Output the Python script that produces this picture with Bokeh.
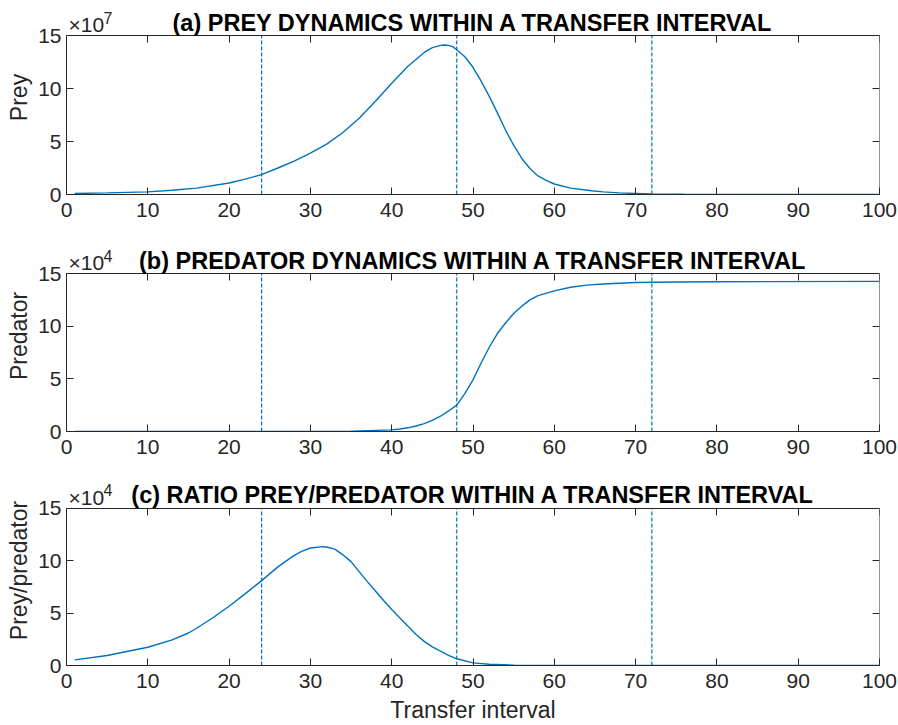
from bokeh.plotting import figure
from bokeh.models import Range1d, FixedTicker, LinearAxis, Label
from bokeh.layouts import column
from bokeh.embed import file_html
from bokeh.resources import INLINE

# ---- data (values in units of the axis exponent) ----
prey_x = [1, 5, 10, 13, 16, 20, 22, 24, 26, 28, 30, 32, 34, 36, 38, 40, 42, 44, 45, 46, 46.5,
          47, 47.5, 48, 49, 50, 51, 52, 53, 54, 55, 56, 57, 58, 59, 60, 62, 64.6, 66, 68, 70,
          72, 76, 80, 100]
prey_y = [0.1, 0.15, 0.25, 0.4, 0.6, 1.08, 1.45, 1.88, 2.5, 3.15, 3.9, 4.75, 5.85, 7.2, 8.8,
          10.5, 12.1, 13.4, 13.85, 14.07, 14.1, 14.07, 13.95, 13.66, 13.0, 12.0, 10.7, 9.26,
          7.7, 6.08, 4.65, 3.4, 2.45, 1.75, 1.33, 0.99, 0.6, 0.35, 0.25, 0.15, 0.1, 0.05, 0.02,
          0.01, 0.0]

pred_x = [1, 10, 20, 30, 35, 40, 41, 42, 43, 44, 45, 46, 47, 48, 49, 50, 51, 52, 53, 54, 55,
          56, 57, 58, 60, 62, 64, 66, 70, 75, 80, 100]
pred_y = [0, 0, 0, 0.01, 0.04, 0.15, 0.24, 0.35, 0.52, 0.75, 1.05, 1.45, 1.95, 2.5, 3.6, 4.9,
          6.5, 8.0, 9.3, 10.3, 11.2, 11.9, 12.5, 12.9, 13.35, 13.7, 13.9, 14.0, 14.14, 14.2,
          14.22, 14.25]

ratio_x = [1, 5, 10, 13, 15, 16, 18, 20, 22, 24, 26, 28, 29, 30, 31.5, 32, 33, 34, 35, 36, 37,
           38, 39, 40, 42, 43, 44, 45, 46, 47, 48, 50, 52, 55, 60, 100]
ratio_y = [0.54, 0.95, 1.74, 2.45, 3.1, 3.55, 4.55, 5.65, 6.85, 8.09, 9.4, 10.5, 10.9, 11.2,
           11.33, 11.3, 11.1, 10.55, 9.9, 8.95, 8.0, 7.1, 6.2, 5.33, 3.74, 2.95, 2.3, 1.78,
           1.36, 0.97, 0.64, 0.25, 0.12, 0.04, 0.01, 0.0]

transfer_marks = [24, 48, 72]
x_ticks = [0, 10, 20, 30, 40, 50, 60, 70, 80, 90, 100]
y_ticks = [0, 5, 10, 15]
y_max = 15

titles = ["(a) PREY DYNAMICS WITHIN A TRANSFER INTERVAL",
          "(b) PREDATOR DYNAMICS WITHIN A TRANSFER INTERVAL",
          "(c) RATIO PREY/PREDATOR WITHIN A TRANSFER INTERVAL"]
ylabels = ["Prey", "Predator", "Prey/predator"]
exponents = ["7", "4", "4"]

BLUE = "#0072BD"
AX = "#262626"
FONT = "Liberation Sans"


def style_axis(ax):
    ax.major_tick_in = 7
    ax.major_tick_out = 0
    ax.minor_tick_line_color = None
    ax.axis_line_color = AX
    ax.major_tick_line_color = AX
    ax.major_label_text_font = FONT
    ax.major_label_text_font_size = "21px"
    ax.major_label_text_color = AX
    ax.axis_label_text_font = FONT
    ax.axis_label_text_font_size = "23px"
    ax.axis_label_text_font_style = "normal"
    ax.axis_label_text_color = AX


def make_panel(xs, ys, title, ylabel, expo, height, head, bottom, xlabel=None):
    # the frame reaches the top of the figure; the head room above y=15 holds the title
    frame_h = height - bottom
    y_top = y_max * frame_h / (frame_h - head)
    p = figure(width=898, height=height, x_range=Range1d(0, 100), y_range=Range1d(0, y_top),
               output_backend="svg", toolbar_location=None,
               min_border_left=66, min_border_right=19,
               min_border_top=0, min_border_bottom=bottom)
    p.xgrid.visible = False
    p.ygrid.visible = False
    p.outline_line_color = None
    p.background_fill_color = "white"
    p.border_fill_color = "white"

    for ax in p.xaxis:
        ax.ticker = FixedTicker(ticks=x_ticks)
        style_axis(ax)
        ax.major_label_standoff = 8
    for ax in p.yaxis:
        ax.ticker = FixedTicker(ticks=y_ticks)
        ax.bounds = (0, y_max)
        style_axis(ax)
        ax.major_label_standoff = 5
        ax.axis_label = ylabel
        ax.axis_label_standoff = 3
    if xlabel:
        p.xaxis.axis_label = xlabel
        p.xaxis.axis_label_standoff = 6

    # box with mirrored ticks (MATLAB style)
    top_ax = LinearAxis(ticker=FixedTicker(ticks=x_ticks), fixed_location=y_max)
    right_ax = LinearAxis(ticker=FixedTicker(ticks=y_ticks), fixed_location=100,
                          bounds=(0, y_max))
    for ax in (top_ax, right_ax):
        style_axis(ax)
        ax.major_label_text_color = None
    p.add_layout(top_ax, "above")
    p.add_layout(right_ax, "right")

    n = len(transfer_marks)
    p.segment(x0=transfer_marks, y0=[0] * n, x1=transfer_marks, y1=[y_max] * n,
              line_color=BLUE, line_dash="4 2", line_width=1.2)

    p.line(xs, ys, line_color=BLUE, line_width=1.4)

    p.add_layout(Label(x=50, y=y_max, y_offset=13, text=title, text_align="center",
                       text_baseline="middle", text_font=FONT, text_font_size="23.5px",
                       text_font_style="bold", text_color="black"))
    p.add_layout(Label(x=0, y=y_max, x_offset=2, y_offset=11, text="\u00d710", text_align="left",
                       text_baseline="middle", text_font=FONT, text_font_size="21px",
                       text_color=AX))
    p.add_layout(Label(x=0, y=y_max, x_offset=37, y_offset=18, text=expo, text_align="left",
                       text_baseline="middle", text_font=FONT, text_font_size="16px",
                       text_color=AX))
    return p


p1 = make_panel(prey_x, prey_y, titles[0], ylabels[0], exponents[0], 240, 35, 46)
p2 = make_panel(pred_x, pred_y, titles[1], ylabels[1], exponents[1], 235, 33, 44)
p3 = make_panel(ratio_x, ratio_y, titles[2], ylabels[2], exponents[2], 250, 33, 58,
                xlabel="Transfer interval")

layout = column(p1, p2, p3, spacing=0)
open("out.html", "w").write(file_html(layout, INLINE))
